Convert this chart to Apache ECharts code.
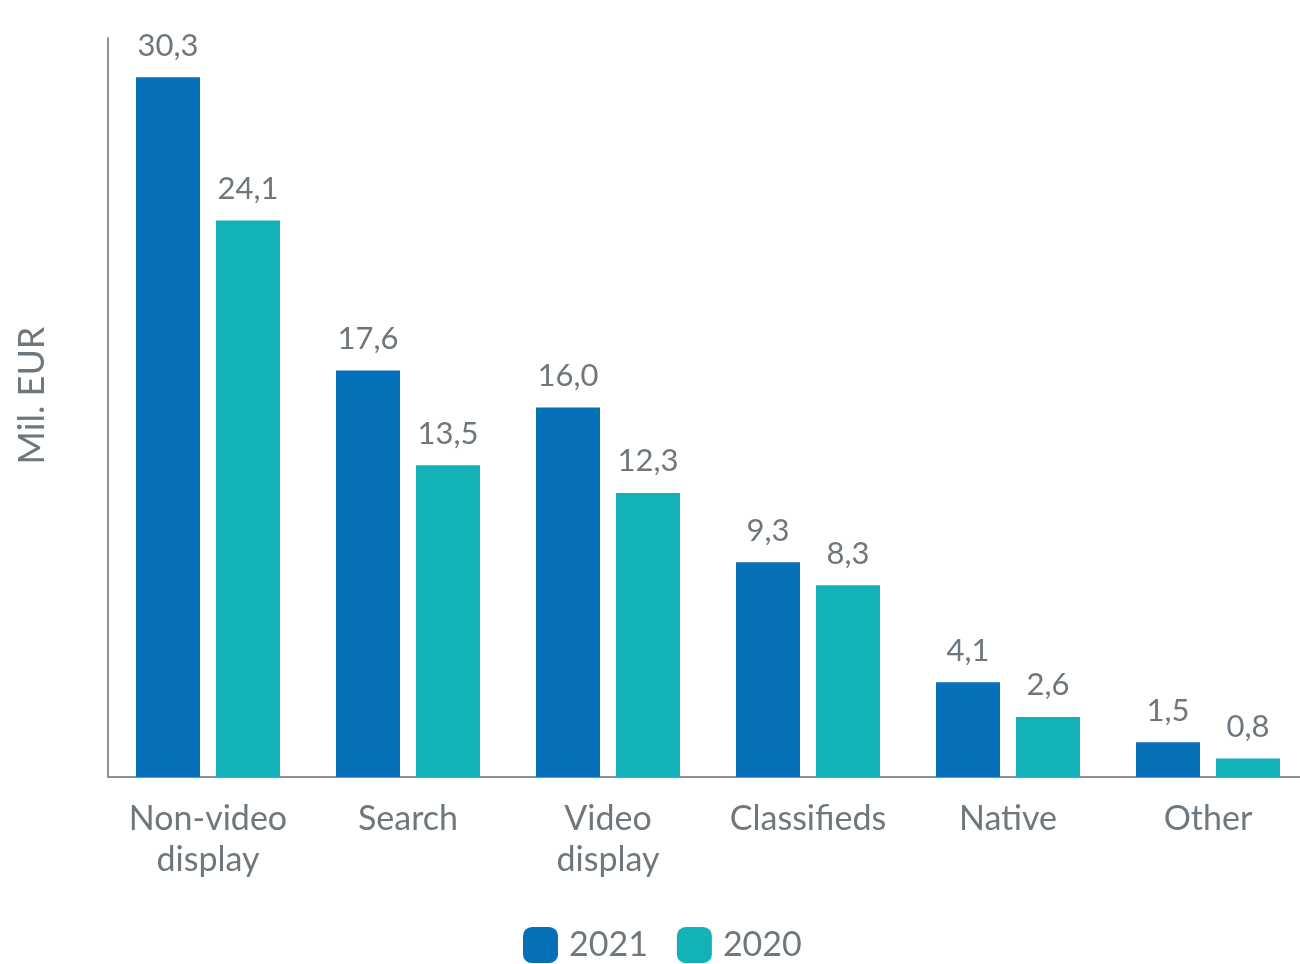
<!DOCTYPE html>
<html><head><meta charset="utf-8">
<script src="https://cdn.jsdelivr.net/npm/echarts@6/dist/echarts.min.js"></script>
<style>html,body{margin:0;padding:0;background:#fff}#c{width:1300px;height:964px}</style>
</head><body><div id="c"></div>
<script>
const categories = ['Non-video\ndisplay', 'Search', 'Video\ndisplay', 'Classifieds', 'Native', 'Other'];
const values2021 = [30.3, 17.6, 16.0, 9.3, 4.1, 1.5];
const values2020 = [24.1, 13.5, 12.3, 8.3, 2.6, 0.8];
const seriesNames = ['2021', '2020'];
const yAxisName = 'Mil. EUR';

const textColor = '#6f777e';
const font = 'Lato';
const fmt = p => p.value.toFixed(1).replace('.', ',');
const label = {show: true, position: 'top', distance: 16, color: textColor, fontFamily: font, fontSize: 31, formatter: fmt};

const chart = echarts.init(document.getElementById('c'));
chart.setOption({
  animation: false,
  grid: {left: 108, top: 38, right: -92, bottom: 187, width: 1200, outerBoundsMode: 'none', containLabel: false},
  legend: {
    left: 518, top: 922, itemWidth: 35, itemHeight: 36, itemGap: 29,
    textStyle: {color: textColor, fontFamily: font, fontSize: 34, padding: [0, 0, 0, 6]},
    data: seriesNames
  },
  xAxis: {
    type: 'category', data: categories,
    axisLine: {lineStyle: {color: '#8a9097', width: 2}},
    axisTick: {show: false},
    axisLabel: {color: textColor, fontFamily: font, fontSize: 34, lineHeight: 41, margin: 22, interval: 0}
  },
  yAxis: {
    type: 'value', min: 0, max: 32,
    name: yAxisName, nameLocation: 'middle', nameGap: 58, nameRotate: 90,
    nameTextStyle: {color: textColor, fontFamily: font, fontSize: 36, padding: [0, 0, 0, 24]},
    axisLine: {show: true, lineStyle: {color: '#8a9097', width: 2}},
    axisTick: {show: false}, axisLabel: {show: false}, splitLine: {show: false}
  },
  series: [
    {name: seriesNames[0], type: 'bar', data: values2021, barWidth: 64, barGap: '25%', itemStyle: {color: '#0670b8'}, label},
    {name: seriesNames[1], type: 'bar', data: values2020, barWidth: 64, barGap: '25%', itemStyle: {color: '#12b2b8'}, label}
  ]
});
</script></body></html>
